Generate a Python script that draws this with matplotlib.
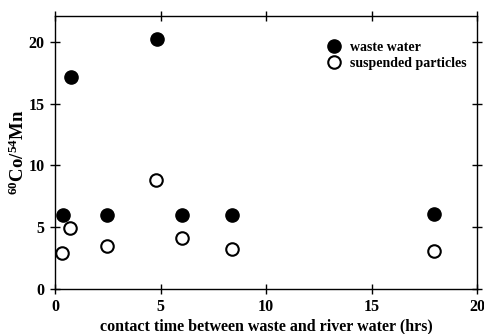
import numpy as np
import matplotlib
matplotlib.use('Agg')
import matplotlib.pyplot as plt

plt.rcParams['font.family'] = 'Liberation Serif'
plt.rcParams['font.weight'] = 'bold'
plt.rcParams['axes.labelweight'] = 'bold'
plt.rcParams['mathtext.fontset'] = 'custom'
plt.rcParams['mathtext.bf'] = 'Liberation Serif:bold'
plt.rcParams['mathtext.rm'] = 'Liberation Serif:bold'
plt.rcParams['mathtext.default'] = 'bf'

# contact time (hrs) and 60Co/54Mn ratios
waste_x = [0.4, 0.75, 2.45, 4.85, 6.0, 8.4, 17.95]
waste_y = [6.0, 17.2, 6.0, 20.25, 6.0, 6.0, 6.1]
part_x = [0.35, 0.7, 2.45, 4.8, 6.0, 8.4, 17.95]
part_y = [2.95, 4.95, 3.5, 8.85, 4.1, 3.2, 3.05]

fig = plt.figure(figsize=(4.84, 3.34), dpi=100)
ax = fig.add_axes([55/484, 1 - 289/334, 422/484, 273/334])

ax.plot(waste_x, waste_y, 'o', color='black', markersize=9.5, label='waste water')
ax.plot(part_x, part_y, 'o', markerfacecolor='white', markeredgecolor='black',
        markeredgewidth=1.5, markersize=9, label='suspended particles')

ax.set_xlim(0, 20)
ax.set_ylim(0, 22.1)
ax.set_xticks([0, 5, 10, 15, 20])
ax.set_yticks([0, 5, 10, 15, 20])
ax.tick_params(direction='inout', length=7, width=1, top=True, right=True,
               labelsize=11.5, pad=4)
for lab in ax.get_xticklabels() + ax.get_yticklabels():
    lab.set_fontweight('bold')
for s in ax.spines.values():
    s.set_linewidth(1)

ax.set_xlabel('contact time between waste and river water (hrs)', fontsize=11.5, labelpad=2)
ax.set_ylabel(r'$^{60}$Co/$^{54}$Mn', fontsize=13.5, labelpad=0)

ax.legend(loc='upper left', bbox_to_anchor=(0.605, 0.945), frameon=False,
          prop={'size': 10, 'weight': 'bold'}, handletextpad=0.15,
          labelspacing=0.22, borderpad=0.2)

fig.savefig('out.png', dpi=100)
